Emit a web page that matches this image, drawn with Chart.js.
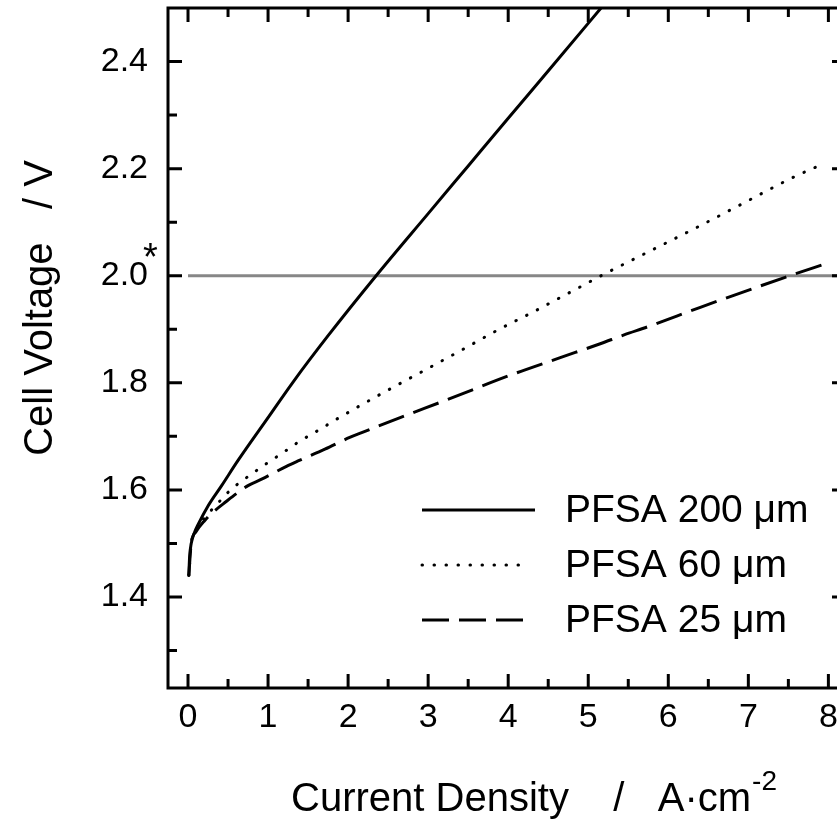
<!DOCTYPE html>
<html>
<head>
<meta charset="utf-8">
<script src="https://cdn.jsdelivr.net/npm/chart.js@4.4.1/dist/chart.umd.min.js"></script>
<style>
  html, body { margin: 0; padding: 0; background: #fff; overflow: hidden; }
  #wrap { width: 837px; height: 834px; overflow: hidden; }
  canvas { display: block; }
</style>
</head>
<body>
<div id="wrap"><canvas id="polChart" width="860" height="834"></canvas></div>
<script>
// polarisation curves, current density in A/cm2 and cell voltage in V
const j200 = [0.01, 0.02, 0.04, 0.08, 0.125, 0.25, 0.42, 0.625, 1.0, 1.31, 1.75, 2.35, 3.0, 3.5, 4.0, 4.52, 5.25];
const v200 = [1.44, 1.475, 1.50, 1.52, 1.535, 1.57, 1.608, 1.655, 1.735, 1.801, 1.888, 2.0, 2.116, 2.205, 2.294, 2.386, 2.516];

const j60 = [0.01, 0.04, 0.1, 0.23, 0.355, 0.49, 0.63, 0.78, 0.93, 1.08, 1.23, 1.375, 1.52, 1.67, 1.81, 1.96, 2.11, 2.555, 3.0, 3.44, 3.875, 4.32, 4.76, 5.2, 5.65, 6.38, 6.97, 7.55, 7.86];
const v60 = [1.44, 1.50, 1.525, 1.552, 1.572, 1.594, 1.612, 1.628, 1.644, 1.659, 1.674, 1.689, 1.702, 1.715, 1.728, 1.741, 1.754, 1.791, 1.827, 1.863, 1.899, 1.933, 1.968, 2.003, 2.037, 2.092, 2.138, 2.183, 2.204];

const j25 = [0.01, 0.04, 0.1, 0.21, 0.31, 0.44, 0.75, 0.92, 1.23, 1.375, 1.71, 2.02, 2.17, 2.65, 3.23, 4.04, 4.65, 5.15, 5.44, 5.77, 6.4, 7.46, 8.0];
const v25 = [1.44, 1.50, 1.522, 1.543, 1.558, 1.574, 1.608, 1.620, 1.644, 1.654, 1.676, 1.698, 1.707, 1.735, 1.768, 1.815, 1.847, 1.873, 1.889, 1.906, 1.941, 1.997, 2.024];

// 2.0 V reference line
const jRef = [0, 8.5];
const vRef = [2.0, 2.0];

const seriesNames = ['PFSA 200 \u03bcm', 'PFSA 60 \u03bcm', 'PFSA 25 \u03bcm'];
const xTicks = [0, 1, 2, 3, 4, 5, 6, 7, 8];
const xMinor = [0.5, 1.5, 2.5, 3.5, 4.5, 5.5, 6.5, 7.5];
const yTicks = [1.4, 1.6, 1.8, 2.0, 2.2, 2.4];
const yMinor = [1.3, 1.5, 1.7, 1.9, 2.1, 2.3];

const FONT = 'Liberation Sans, Arial, Helvetica, sans-serif';

function pts(xs, ys) { return xs.map((v, i) => ({ x: v, y: ys[i] })); }
function noPad(s) { s.paddingLeft = 0; s.paddingRight = 0; s.paddingTop = 0; s.paddingBottom = 0; }

// box, inward ticks, axis titles and legend
const framePlugin = {
    id: 'frame',
    afterDraw(chart) {
        const { ctx, chartArea: a, scales: { x, y } } = chart;
        ctx.save();
        ctx.strokeStyle = '#000';
        ctx.lineWidth = 3;
        ctx.strokeRect(a.left, a.top, a.right - a.left, a.bottom - a.top);

        ctx.beginPath();
        const xt = (list, len) => list.forEach(v => {
            const px = x.getPixelForValue(v);
            ctx.moveTo(px, a.bottom); ctx.lineTo(px, a.bottom - len);
            ctx.moveTo(px, a.top); ctx.lineTo(px, a.top + len);
        });
        const yt = (list, len) => list.forEach(v => {
            const py = y.getPixelForValue(v);
            ctx.moveTo(a.left, py); ctx.lineTo(a.left + len, py);
            ctx.moveTo(a.right, py); ctx.lineTo(a.right - len, py);
        });
        xt(xTicks, 14); xt(xMinor, 9);
        yt(yTicks, 14); yt(yMinor, 9);
        ctx.stroke();

        // asterisk on the 2.0 label
        ctx.fillStyle = '#000';
        ctx.font = '38px ' + FONT;
        ctx.textAlign = 'left';
        ctx.textBaseline = 'alphabetic';
        ctx.fillText('*', a.left - 25, y.getPixelForValue(2.0) - 6);

        // x title
        ctx.font = '40px ' + FONT;
        const xt1 = 'Current Density    /   A\u00b7cm';
        const w1 = ctx.measureText(xt1).width;
        ctx.font = '28px ' + FONT;
        const w2 = ctx.measureText('-2').width;
        const sx = 777 - (w1 + w2 + 1);
        ctx.font = '40px ' + FONT;
        ctx.fillText(xt1, sx, 811);
        ctx.font = '28px ' + FONT;
        ctx.fillText('-2', sx + w1 + 1, 790);

        // y title
        ctx.save();
        ctx.translate(52, 308);
        ctx.rotate(-Math.PI / 2);
        ctx.font = '40px ' + FONT;
        ctx.textAlign = 'center';
        ctx.fillText('Cell Voltage   / V', 0, 0);
        ctx.restore();

        // legend
        const rows = [510, 565, 620];
        const dashes = [[], [0.5, 11.5], [27, 10]];
        const ends = [535, 530, 524];
        chart.data.datasets.slice(0, 3).forEach((ds, i) => {
            ctx.beginPath();
            ctx.lineWidth = ds.borderWidth;
            ctx.lineCap = ds.borderCapStyle || 'butt';
            ctx.setLineDash(dashes[i]);
            ctx.moveTo(422, rows[i]);
            ctx.lineTo(ends[i], rows[i]);
            ctx.stroke();
            ctx.setLineDash([]);
            ctx.font = '39px ' + FONT;
            ctx.textBaseline = 'middle';
            ctx.fillText(seriesNames[i], 565, rows[i] + 1);
        });
        ctx.restore();
    }
};

new Chart(document.getElementById('polChart'), {
    type: 'scatter',
    data: {
        datasets: [
            { label: seriesNames[0], data: pts(j200, v200), showLine: true, borderColor: '#000', borderWidth: 3, pointRadius: 0, cubicInterpolationMode: 'monotone' },
            { label: seriesNames[1], data: pts(j60, v60), showLine: true, borderColor: '#000', borderWidth: 3, borderDash: [0.5, 11.5], borderCapStyle: 'round', pointRadius: 0, cubicInterpolationMode: 'monotone' },
            { label: seriesNames[2], data: pts(j25, v25), showLine: true, borderColor: '#000', borderWidth: 3, borderDash: [27, 10], pointRadius: 0, cubicInterpolationMode: 'monotone' },
            { label: 'ref', data: pts(jRef, vRef), showLine: true, borderColor: '#878787', borderWidth: 3, pointRadius: 0 }
        ]
    },
    options: {
        responsive: false,
        animation: false,
        devicePixelRatio: 1,
        layout: { padding: { top: 8, right: 14, left: 0, bottom: 0 } },
        plugins: { legend: { display: false }, tooltip: { enabled: false } },
        scales: {
            x: {
                type: 'linear', min: -0.25, max: 8.22,
                grid: { display: false, drawTicks: false }, border: { display: false },
                ticks: { color: '#000', font: { family: FONT, size: 34 }, padding: 9, maxRotation: 0 },
                afterBuildTicks: s => { s.ticks = xTicks.map(v => ({ value: v })); },
                afterFit: s => { s.height = 146; noPad(s); }
            },
            y: {
                type: 'linear', min: 1.23, max: 2.5,
                grid: { display: false, drawTicks: false }, border: { display: false },
                ticks: { color: '#000', font: { family: FONT, size: 34 }, padding: 20, callback: v => v.toFixed(1) },
                afterBuildTicks: s => { s.ticks = yTicks.map(v => ({ value: v })); },
                afterFit: s => { s.width = 168; noPad(s); }
            }
        }
    },
    plugins: [framePlugin]
});
</script>
</body>
</html>
